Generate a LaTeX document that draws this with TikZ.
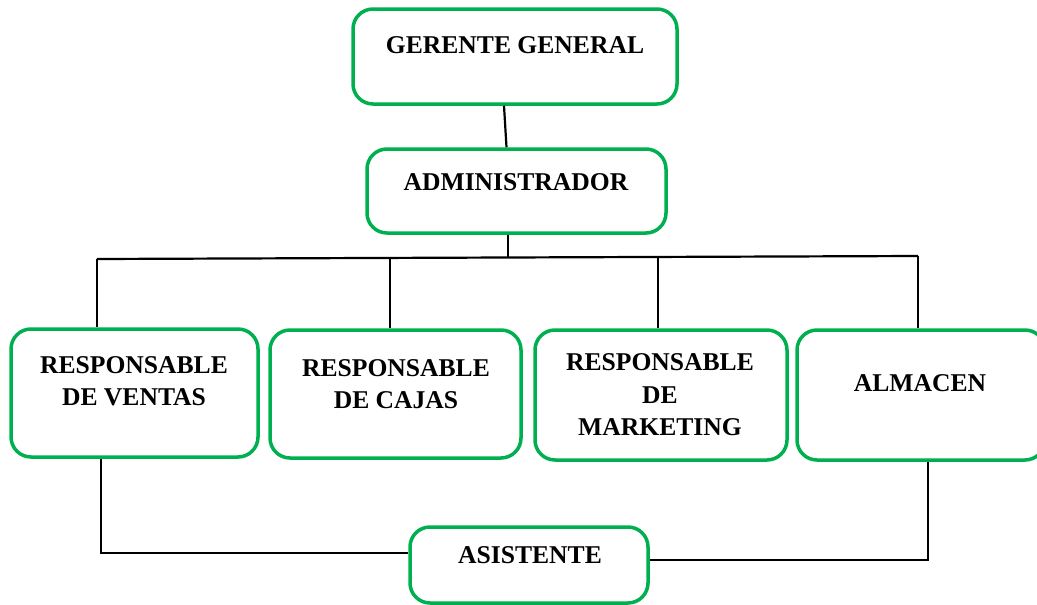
\documentclass[tikz,border=0pt]{standalone}
\usepackage{fontspec}
\setmainfont{Liberation Serif}
\definecolor{boxgreen}{RGB}{0,176,80}
\begin{document}
\begin{tikzpicture}[x=1pt,y=-1pt,
  box/.style={draw=boxgreen, line width=3.5pt, rounded corners=20pt, fill=white, inner sep=0pt},
  txt/.style={font=\fontsize{25.6}{32.5}\selectfont\bfseries, align=center, inner sep=0pt, text=black},
  conn/.style={draw=black, line width=2.2pt}]
\useasboundingbox (0,0) rectangle (1037,605);
\clip (0,0) rectangle (1037,605);
% boxes
\node[box, minimum width=324pt, minimum height=95pt] (gg) at (515,56.5) {};
\node[box, minimum width=299pt, minimum height=84pt] (adm) at (516.5,191) {};
\node[box, minimum width=247pt, minimum height=128pt] (ven) at (134.5,393) {};
\node[box, minimum width=251pt, minimum height=128pt] (caj) at (395.5,394) {};
\node[box, minimum width=252pt, minimum height=130pt] (mkt) at (661,395) {};
\node[box, minimum width=248pt, minimum height=130pt] (alm) at (921,395) {};
\node[box, minimum width=238pt, minimum height=76pt] (asi) at (529,565) {};
% texts
\node[txt] (ggt) at (515,45) {GERENTE GENERAL};
\node[txt] (admt) at (516,182) {ADMINISTRADOR};
\node[txt] (vent) at (134,381) {RESPONSABLE\\DE VENTAS};
\node[txt] (cajt) at (396,384) {RESPONSABLE\\DE CAJAS};
\node[txt] (mktt) at (660,395) {RESPONSABLE\\DE\\MARKETING};
\node[txt] (almt) at (920,383) {ALMACEN};
\node[txt] (asit) at (530,555) {ASISTENTE};
% connector points
\coordinate (busL) at (97,259);
\coordinate (busA) at (508,258);
\coordinate (busB) at (390,258.5);
\coordinate (busC) at (658,257.5);
\coordinate (busR) at (918,256);
\coordinate (bl) at (101,553);
\coordinate (br) at (928,560);
% connectors
\draw[conn] ([xshift=-11pt]gg.south) -- ([xshift=-10pt]adm.north);
\draw[conn] (busA |- adm.south) -- (busA);
\draw[conn] (busL) -- (busR);
\draw[conn] (busL) -- (busL |- ven.north);
\draw[conn] (busB) -- (busB |- caj.north);
\draw[conn] (busC) -- (busC |- mkt.north);
\draw[conn] (busR) -- (busR |- alm.north);
\draw[conn] (bl |- ven.south) -- (bl) -- (bl -| asi.west);
\draw[conn] (br -| asi.east) -- (br) -- (br |- alm.south);
\end{tikzpicture}
\end{document}
